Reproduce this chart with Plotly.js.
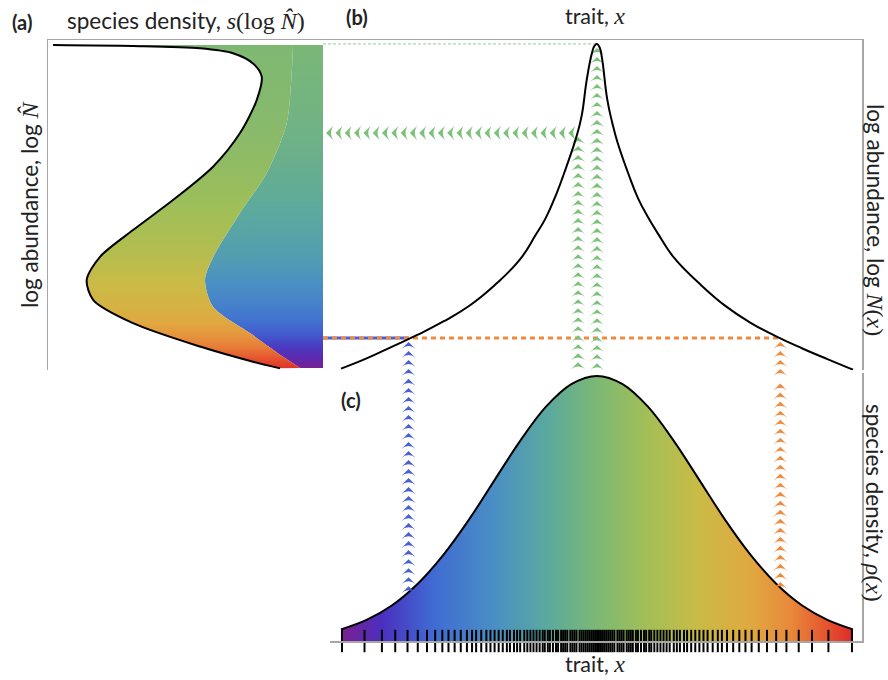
<!DOCTYPE html>
<html><head><meta charset="utf-8">
<script src="https://cdn.plot.ly/plotly-3.0.1.min.js"></script>
<style>html,body{margin:0;padding:0;background:#fff}#chart{width:888px;height:680px}</style>
</head><body><div id="chart"></div>
<script>
// ---------- data ----------
// Panel (b): log abundance log N(x) along the trait axis
const traitB   = [-2.5,-2.25,-2.0,-1.75,-1.5,-1.25,-1.0,-0.75,-0.6,-0.5,-0.4,-0.3,-0.2,-0.15,-0.1,-0.05,-0.025,0,0.025,0.05,0.1,0.15,0.2,0.3,0.4,0.5,0.6,0.75,1.0,1.25,1.5,1.75,2.0,2.25,2.5];
const logAbund = [0.04,0.35,0.71,1.07,1.47,1.94,2.57,3.36,4.09,4.61,5.31,6.15,7.08,7.7,8.8,9.6,9.82,9.88,9.78,9.42,8.2,7.48,6.9,6.0,5.21,4.62,4.11,3.41,2.62,1.95,1.43,1.02,0.66,0.33,0.01];

// Panel (c): species density rho(x)
const traitC  = [-2.5,-2.25,-2,-1.75,-1.5,-1.25,-1,-0.75,-0.5,-0.25,0,0.25,0.5,0.75,1,1.25,1.5,1.75,2,2.25,2.5];
const density = [0.044,0.08,0.135,0.216,0.325,0.458,0.607,0.755,0.883,0.969,1.0,0.969,0.883,0.755,0.607,0.458,0.325,0.216,0.135,0.08,0.044];

// Panel (c): trait values of individual species (rug)
const speciesLeft  = [-2.49,-2.27,-2.10,-1.97,-1.85,-1.75,-1.66,-1.58,-1.51,-1.45,-1.39,-1.33,-1.27,-1.22,-1.18,-1.13,-1.08,-1.04,-1.00,-0.96,-0.92,-0.88,-0.85,-0.81,-0.78,-0.75,-0.71,-0.68,-0.65,-0.62,-0.59,-0.56,-0.53,-0.51,-0.48,-0.46,-0.43,-0.40,-0.38,-0.35,-0.33,-0.31,-0.29,-0.26,-0.24,-0.22,-0.20,-0.17,-0.15,-0.13,-0.11,-0.09,-0.07,-0.05,-0.03,-0.01];
const speciesRight = [0.01,0.03,0.05,0.07,0.09,0.11,0.13,0.15,0.17,0.20,0.22,0.24,0.26,0.29,0.31,0.33,0.35,0.38,0.40,0.43,0.46,0.48,0.51,0.53,0.56,0.59,0.62,0.65,0.68,0.71,0.75,0.78,0.81,0.85,0.88,0.92,0.96,1.00,1.04,1.08,1.13,1.18,1.22,1.27,1.33,1.39,1.45,1.51,1.58,1.66,1.75,1.85,1.97,2.10,2.26,2.49];

// Panel (a): species density of log abundance (total, and left-branch part)
const logNOuter = [9.85,9.82,9.75,9.6,9.29,8.89,8.18,7.18,6.16,5.15,4.24,3.43,2.73,2.12,1.42,0.71,0.25,0.05];
const densOuter = [2.70,1.90,1.23,0.90,0.70,0.613,0.663,0.83,1.10,1.50,1.90,2.23,2.363,2.297,1.90,1.23,0.70,0.43];
const logNInner = [9.85,9.0,7.48,5.97,4.76,3.43,2.73,1.92,1.12,0.40,0.06];
const densInner = [0.30,0.313,0.363,0.563,0.83,1.097,1.18,1.10,0.73,0.40,0.23];

// Reference levels (dashed guide lines)
const peakTrait = 0.0,   peakLogN = 9.88;
const midTrait  = -0.185, midLogN = 7.18;
const blueTrait = -1.84, orangeTrait = 1.79, lowLogN = 0.97;

// Trait colour scale
const rainbowPos = [0,0.08,0.18,0.3,0.4,0.5,0.6,0.7,0.8,0.88,0.94,1];
const rainbowCol = ['#7d1f8e','#4b2fbf','#3f6bd3','#4a8fc4','#5aa8a0','#7cb874','#a3bf56','#cabb46','#e0a840','#e8883a','#e65a30','#dd2a2a'];

// ---------- helpers ----------
function hex2rgb(h){return [parseInt(h.slice(1,3),16),parseInt(h.slice(3,5),16),parseInt(h.slice(5,7),16)];}
function rainbow(f){
  f=Math.max(0,Math.min(1,f));
  for(let i=1;i<rainbowPos.length;i++){
    if(f<=rainbowPos[i]){
      const a=hex2rgb(rainbowCol[i-1]), b=hex2rgb(rainbowCol[i]);
      const u=(f-rainbowPos[i-1])/(rainbowPos[i]-rainbowPos[i-1]);
      return 'rgb('+a.map((v,k)=>Math.round(v+(b[k]-v)*u)).join(',')+')';
    }
  }
  return rainbowCol[rainbowCol.length-1];
}
const rainbowScale = rainbowPos.map((p,i)=>[p,rainbowCol[i]]);
function traitFrac(t){return (t+2.5)/5;}
function branchScale(side){
  const pts=[];
  traitB.forEach((t,i)=>{ if((side<0&&t<=0)||(side>0&&t>=0)) pts.push([Math.min(1,Math.max(0,logAbund[i]/peakLogN)), rainbow(traitFrac(t))]); });
  pts.sort((a,b)=>a[0]-b[0]);
  pts[0][0]=0; pts[pts.length-1][0]=1;
  return pts;
}
function interp(xs,ys,x){
  for(let i=1;i<xs.length;i++){ if(x<=xs[i]){const u=(x-xs[i-1])/(xs[i]-xs[i-1]); return ys[i-1]+(ys[i]-ys[i-1])*u;} }
  return ys[ys.length-1];
}
function seq(from,to,step){const r=[]; if(step>0){for(let v=from;v<=to+1e-9;v+=step) r.push(v);} else {for(let v=from;v>=to-1e-9;v+=step) r.push(v);} return r;}

// axis ranges
const xRangeB=[-2.676,2.588], xRangeC=[-2.607,2.588];
const GREEN='#7cc07a', BLUE='#4a5fd6', ORANGE='#f08a3c';
function chevMarker(col,angle,size){return {symbol:'arrow-wide', angle:angle, size:size||10, color:col, line:{width:0}};}

const traces=[];
// ---- panel (a)
traces.push({x:densInner, y:logNInner, xaxis:'x', yaxis:'y', mode:'lines', line:{width:0, shape:'spline', smoothing:0.8},
  fill:'tozerox', fillgradient:{type:'vertical', start:0, stop:peakLogN, colorscale:branchScale(-1)}, hoverinfo:'skip'});
traces.push({x:densOuter, y:logNOuter, xaxis:'x', yaxis:'y', mode:'lines', line:{color:'#000', width:2, shape:'spline', smoothing:0.8},
  fill:'tonextx', fillgradient:{type:'vertical', start:0, stop:peakLogN, colorscale:branchScale(1)}, hoverinfo:'skip'});

// ---- panel (b) guide lines
traces.push({x:[xRangeB[0],peakTrait], y:[peakLogN,peakLogN], xaxis:'x2', yaxis:'y2', mode:'lines', line:{color:'#a8d8a2', width:1.2, dash:'3px,2px'}});
traces.push({x:[xRangeB[0],blueTrait], y:[lowLogN,lowLogN], xaxis:'x2', yaxis:'y2', mode:'lines', line:{color:BLUE, width:3}});
traces.push({x:[xRangeB[0],orangeTrait], y:[lowLogN,lowLogN], xaxis:'x2', yaxis:'y2', mode:'lines', line:{color:ORANGE, width:3, dash:'5px,4px'}});
// left-pointing chevrons
const hx=seq(xRangeB[0]+0.03, midTrait-0.06, 0.091);
traces.push({x:hx, y:hx.map(()=>midLogN), xaxis:'x2', yaxis:'y2', mode:'markers', marker:chevMarker(GREEN,270,12), cliponaxis:false});
// upward chevrons in (b)
function vChevB(t,Ltop,col){const ys=seq(Ltop-0.12,0.0,-0.273); return {x:ys.map(()=>t), y:ys, xaxis:'x2', yaxis:'y2', mode:'markers', marker:chevMarker(col,0), cliponaxis:false};}
traces.push(vChevB(peakTrait,peakLogN,GREEN));
traces.push(vChevB(midTrait,midLogN,GREEN));
traces.push(vChevB(blueTrait,lowLogN,BLUE));
traces.push(vChevB(orangeTrait,lowLogN,ORANGE));
traces.push({x:traitB, y:logAbund, xaxis:'x2', yaxis:'y2', mode:'lines', line:{color:'#000', width:2, shape:'spline', smoothing:1.3}});

// ---- panel (c)
traces.push({x:traitC, y:density, xaxis:'x3', yaxis:'y3', mode:'lines', line:{color:'#000', width:2, shape:'spline'},
  fill:'tozeroy', fillgradient:{type:'horizontal', start:-2.5, stop:2.5, colorscale:rainbowScale}});
function vChevC(t,col){const d=interp(traitC,density,t); const ys=seq(d+0.02,1.0,0.034); return {x:ys.map(()=>t), y:ys, xaxis:'x3', yaxis:'y3', mode:'markers', marker:chevMarker(col,0), cliponaxis:false};}
traces.push(vChevC(blueTrait,BLUE));
traces.push(vChevC(orangeTrait,ORANGE));
const species=speciesLeft.concat(speciesRight);
traces.push({x:species, y:species.map(()=>0), xaxis:'x3', yaxis:'y3', mode:'markers', cliponaxis:false,
  marker:{symbol:'line-ns-open', size:16, color:'#000', line:{color:'#000', width:2}}});

// ---------- layout ----------
const AX={showgrid:false, zeroline:false, showticklabels:false, ticks:'', showline:true, linecolor:'#a6a6a6', linewidth:1.5, fixedrange:true};
const W=888,H=680;
const px=x=>x/W, py=y=>1-y/H;
const SERIF="font-family:'Liberation Serif';font-size:24px";
const FONT={family:'Lato', size:22.5, color:'#222'};
function ann(text,x,y,extra){return Object.assign({text:text, x:px(x), y:py(y), xref:'paper', yref:'paper', showarrow:false, font:FONT, xanchor:'center', yanchor:'middle'},extra||{});}
const BOLD=Object.assign({},FONT,{size:20});
const TRAIT=Object.assign({},FONT,{size:21.5});

const layout={
  width:W, height:H, margin:{l:0,r:0,t:0,b:0}, showlegend:false,
  paper_bgcolor:'#fff', plot_bgcolor:'rgba(0,0,0,0)',
  xaxis: Object.assign({},AX,{domain:[px(48),px(323)], range:[2.75,0], side:'top', anchor:'y'}),
  yaxis: Object.assign({},AX,{domain:[py(370),py(40)], range:[0,10], side:'left', anchor:'x'}),
  xaxis2:Object.assign({},AX,{domain:[px(323),px(862)], range:xRangeB, side:'top', anchor:'y2'}),
  yaxis2:Object.assign({},AX,{domain:[py(370),py(40)], range:[0,10], side:'right', anchor:'x2'}),
  xaxis3:Object.assign({},AX,{domain:[px(330),px(862)], range:xRangeC, side:'bottom', anchor:'y3'}),
  yaxis3:Object.assign({},AX,{domain:[py(641),py(373)], range:[0,1.011], side:'right', anchor:'x3'}),
  annotations:[
    ann('<b>(a)</b>',22,22,{font:BOLD}),
    ann('species density, <span style="'+SERIF+'"><i>s</i>(log <i>N&#770;</i>)</span>',186,20),
    ann('<b>(b)</b>',357,17,{font:BOLD}),
    ann('trait, <span style="'+SERIF+'"><i>x</i></span>',595,16,{font:TRAIT}),
    ann('<b>(c)</b>',351,400,{font:BOLD}),
    ann('trait, <span style="'+SERIF+'"><i>x</i></span>',595,664,{font:TRAIT}),
    ann('log abundance, log <span style="'+SERIF+'"><i>N&#770;</i></span>',29,205,{textangle:-90}),
    ann('log abundance, log <span style="'+SERIF+'"><i>N</i>(<i>x</i>)</span>',875,220,{textangle:90}),
    ann('species density, <span style="'+SERIF+'"><i>ρ</i>(<i>x</i>)</span>',875,503,{textangle:90})
  ]
};
Plotly.newPlot('chart',traces,layout,{staticPlot:true, displayModeBar:false});
</script></body></html>
